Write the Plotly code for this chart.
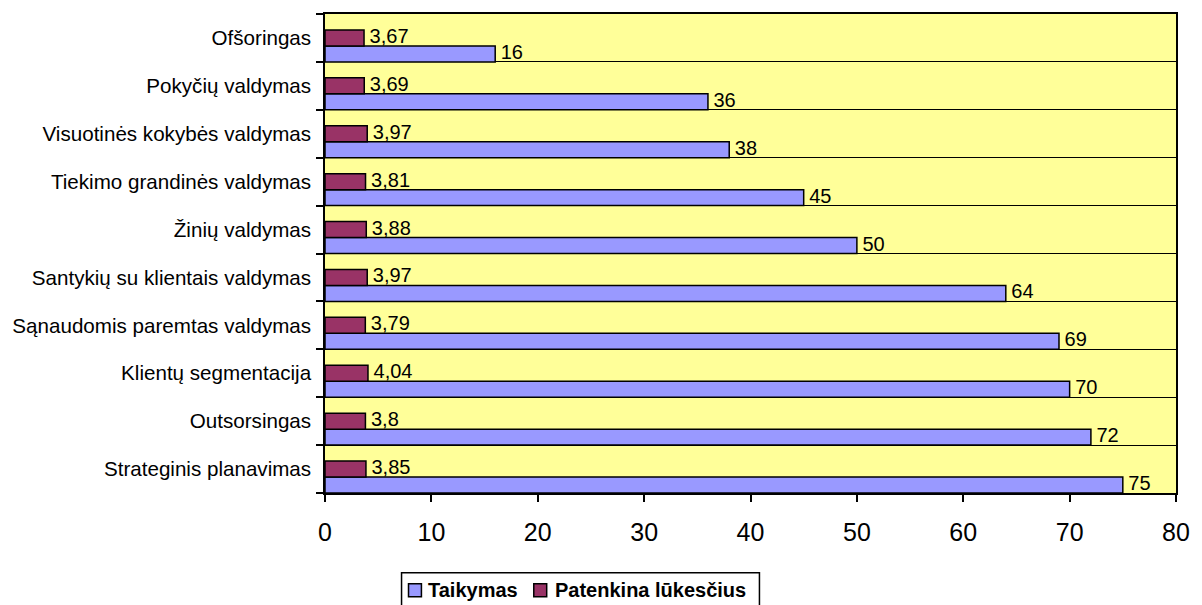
import plotly.graph_objects as go

categories = ["Strateginis planavimas", "Outsorsingas", "Klientų segmentacija",
              "Sąnaudomis paremtas valdymas", "Santykių su klientais valdymas",
              "Žinių valdymas", "Tiekimo grandinės valdymas",
              "Visuotinės kokybės valdymas", "Pokyčių valdymas", "Ofšoringas"]
taikymas = [75, 72, 70, 69, 64, 50, 45, 38, 36, 16]
patenkina = [3.85, 3.8, 4.04, 3.79, 3.97, 3.88, 3.81, 3.97, 3.69, 3.67]
x_ticks = [0, 10, 20, 30, 40, 50, 60, 70, 80]
series_names = ["Taikymas", "Patenkina lūkesčius"]
series_colors = ["#9999FF", "#993366"]

def fmt(v):
    return ("%g" % v).replace(".", ",")

ypos = list(range(len(categories)))
FONT = "Liberation Sans, Arial, sans-serif"
W = 1 / 3

# plot area geometry in pixels (for converting the manual legend position)
L, R, T, B = 325, 21, 13, 112
FW, FH = 1202, 605
PW, PH = FW - L - R, FH - T - B

def px(x):
    return (x - L) / PW

def py(y):
    return (FH - B - y) / PH

fig = go.Figure()
fig.add_trace(go.Bar(
    name=series_names[0], orientation="h", x=taikymas, y=ypos,
    offset=-0.5, width=W, showlegend=False,
    marker=dict(color=series_colors[0], line=dict(color="black", width=1.5)),
))
fig.add_trace(go.Bar(
    name=series_names[1], orientation="h", x=patenkina, y=ypos,
    offset=-0.5 + W, width=W, showlegend=False,
    marker=dict(color=series_colors[1], line=dict(color="black", width=1.5)),
))
# value labels
fig.add_trace(go.Scatter(
    x=taikymas, y=[p - 0.5 + W / 2 for p in ypos], mode="text",
    text=[" " + fmt(v) for v in taikymas], textposition="middle right",
    textfont=dict(family=FONT, size=20, color="black"),
    showlegend=False, hoverinfo="skip", cliponaxis=False,
))
fig.add_trace(go.Scatter(
    x=patenkina, y=[p - 0.5 + 1.5 * W for p in ypos], mode="text",
    text=[" " + fmt(v) for v in patenkina], textposition="middle right",
    textfont=dict(family=FONT, size=20, color="black"),
    showlegend=False, hoverinfo="skip", cliponaxis=False,
))

# manual legend (box + swatches + labels)
shapes = [dict(type="rect", xref="paper", yref="paper",
               x0=px(402), x1=px(762), y0=py(609), y1=py(573),
               line=dict(color="black", width=1.5), fillcolor="white", layer="above")]
annotations = []
sw_x = [409, 535]
tx_x = [427, 554]
for i, name in enumerate(series_names):
    shapes.append(dict(type="rect", xref="paper", yref="paper",
                       x0=px(sw_x[i]), x1=px(sw_x[i] + 13), y0=py(597), y1=py(584),
                       line=dict(color="black", width=1.5),
                       fillcolor=series_colors[i], layer="above"))
    annotations.append(dict(xref="paper", yref="paper", x=px(tx_x[i]), y=py(590.5),
                            xanchor="left", yanchor="middle", showarrow=False,
                            text="<b>%s</b>" % name,
                            font=dict(family=FONT, size=20, color="black")))

fig.update_layout(
    width=FW, height=FH,
    margin=dict(l=L, r=R, t=T, b=B),
    paper_bgcolor="white", plot_bgcolor="#FFFF99",
    barmode="overlay", showlegend=False,
    font=dict(family=FONT, color="black"),
    shapes=shapes, annotations=annotations,
    xaxis=dict(range=[0, 80], tickvals=x_ticks, ticktext=[str(v) for v in x_ticks],
               showgrid=False, zeroline=False, ticks="outside", ticklen=7,
               tickcolor="black", tickwidth=1.5,
               showline=True, linecolor="black", linewidth=1.5, mirror=True,
               tickfont=dict(family=FONT, size=25), ticklabelstandoff=9),
    yaxis=dict(range=[-0.5, len(categories) - 0.5], tickvals=ypos, ticktext=categories,
               showgrid=False, zeroline=False, ticks="",
               showline=True, linecolor="black", linewidth=1.5, mirror=True,
               tickfont=dict(family=FONT, size=20.6), ticklabelstandoff=8,
               minor=dict(tick0=-0.5, dtick=1, showgrid=True, gridcolor="black",
                          gridwidth=1.2, ticks="outside", ticklen=7,
                          tickcolor="black", tickwidth=1.5)),
)

fig.write_html("out.html")
